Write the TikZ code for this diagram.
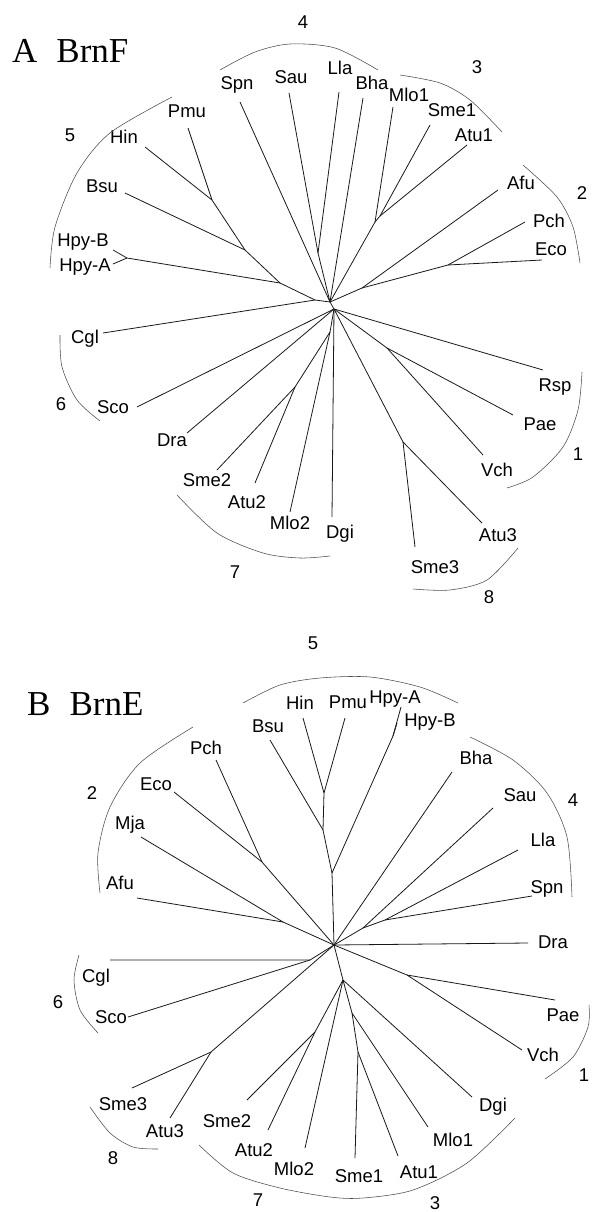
\documentclass[tikz,border=0pt]{standalone}
\usepackage{fontspec}
\setmainfont{Liberation Serif}
\setsansfont{Liberation Sans}
\usetikzlibrary{positioning}
\tikzset{%
	leaf/.style     = {font=\sffamily\fontsize{18.5}{20}\selectfont, inner sep=0pt, text height=13pt, text depth=0pt}, % species
	clade/.style    = {leaf}, % group number
	panel/.style    = {font=\rmfamily\fontsize{35}{40}\selectfont, inner sep=0pt, anchor=base west}, % panel title
	waypoint/.style = {coordinate}, % branch point
	branch/.style   = {line width=0.8pt, black!90},
	bracket/.style  = {line width=0.55pt, black!70},
}
\begin{document}
\begin{tikzpicture}[x=1pt,y=-1pt]
\useasboundingbox (0,0) rectangle (592,1212);

% ---------------- A BrnF
\node [panel] (titleA) at (12,63) {A\hspace{19pt}BrnF};

\node [waypoint] (hubA)  at (330,302) {};
\node [waypoint] (hubA2) at (334,309) {};
\node [waypoint] (jslA)  at (318,253) {};
\node [waypoint] (jm1A)  at (375,222) {};
\node [waypoint] (jsaA)  at (380,216) {};
\node [waypoint] (jafA)  at (362,288) {};
\node [waypoint] (jpeA)  at (448,265) {};
\node [waypoint] (jlcA)  at (315,300) {};
\node [waypoint] (jlA)   at (280,283) {};
\node [waypoint] (jhpyA) at (127,258) {};
\node [waypoint] (jbsA)  at (245,250) {};
\node [waypoint] (jhpA)  at (212,200) {};
\node [waypoint] (jpvA)  at (387,348) {};
\node [waypoint] (j8A)   at (403,442) {};
\node [waypoint] (j7A)   at (330,332) {};
\node [waypoint] (j7aA)  at (295,387) {};

\node [leaf] (spnA)  at (237,83)  {Spn};   \node [waypoint] (spnAe)  at (240,102) {};
\node [leaf] (sauA)  at (291,77)  {Sau};   \node [waypoint] (sauAe)  at (289,93)  {};
\node [leaf] (llaA)  at (340,68)  {Lla};   \node [waypoint] (llaAe)  at (339,92)  {};
\node [leaf] (bhaA)  at (372,83)  {Bha};   \node [waypoint] (bhaAe)  at (363,98)  {};
\node [leaf] (mlo1A) at (409,95)  {Mlo1};  \node [waypoint] (mlo1Ae) at (393,107) {};
\node [leaf] (sme1A) at (452,110) {Sme1};  \node [waypoint] (sme1Ae) at (430,125) {};
\node [leaf] (atu1A) at (474,135) {Atu1};  \node [waypoint] (atu1Ae) at (467,145) {};
\node [leaf] (afuA)  at (521,183) {Afu};   \node [waypoint] (afuAe)  at (498,190) {};
\node [leaf] (pchA)  at (549,221) {Pch};   \node [waypoint] (pchAe)  at (525,222) {};
\node [leaf] (ecoA)  at (551,249) {Eco};   \node [waypoint] (ecoAe)  at (542,260) {};
\node [leaf] (rspA)  at (555,385) {Rsp};   \node [waypoint] (rspAe)  at (543,370) {};
\node [leaf] (paeA)  at (540,424) {Pae};   \node [waypoint] (paeAe)  at (513,415) {};
\node [leaf] (vchA)  at (497,470) {Vch};   \node [waypoint] (vchAe)  at (483,455) {};
\node [leaf] (atu3A) at (498,535) {Atu3};  \node [waypoint] (atu3Ae) at (482,523) {};
\node [leaf] (sme3A) at (435,567) {Sme3};  \node [waypoint] (sme3Ae) at (415,547) {};
\node [leaf] (dgiA)  at (340,532) {Dgi};   \node [waypoint] (dgiAe)  at (332,517) {};
\node [leaf] (mlo2A) at (290,523) {Mlo2};  \node [waypoint] (mlo2Ae) at (290,512) {};
\node [leaf] (atu2A) at (247,502) {Atu2};  \node [waypoint] (atu2Ae) at (255,483) {};
\node [leaf] (sme2A) at (207,480) {Sme2};  \node [waypoint] (sme2Ae) at (217,470) {};
\node [leaf] (draA)  at (172,440) {Dra};   \node [waypoint] (draAe)  at (187,433) {};
\node [leaf] (scoA)  at (113,407) {Sco};   \node [waypoint] (scoAe)  at (137,407) {};
\node [leaf] (cglA)  at (85,337)  {Cgl};   \node [waypoint] (cglAe)  at (103,333) {};
\node [leaf] (hpyaA) at (85,265)  {Hpy-A}; \node [waypoint] (hpyaAe) at (113,264) {};
\node [leaf] (hpybA) at (83,240)  {Hpy-B}; \node [waypoint] (hpybAe) at (113,250) {};
\node [leaf] (bsuA)  at (102,186) {Bsu};   \node [waypoint] (bsuAe)  at (125,193) {};
\node [leaf] (hinA)  at (124,137) {Hin};   \node [waypoint] (hinAe)  at (145,147) {};
\node [leaf] (pmuA)  at (187,111) {Pmu};   \node [waypoint] (pmuAe)  at (188,128) {};

\draw [branch] (hubA) -- (hubA2);
\draw [branch] (hubA) -- (spnAe);
\draw [branch] (hubA) -- (jslA) -- (sauAe);
\draw [branch] (jslA) -- (llaAe);
\draw [branch] (hubA) -- (bhaAe);
\draw [branch] (hubA) -- (jm1A) -- (mlo1Ae);
\draw [branch] (jm1A) -- (jsaA) -- (sme1Ae);
\draw [branch] (jsaA) -- (atu1Ae);
\draw [branch] (hubA) -- (jafA) -- (afuAe);
\draw [branch] (jafA) -- (jpeA) -- (pchAe);
\draw [branch] (jpeA) -- (ecoAe);
\draw [branch] (hubA) -- (jlcA) -- (cglAe);
\draw [branch] (jlcA) -- (jlA) -- (jhpyA) -- (hpybAe);
\draw [branch] (jhpyA) -- (hpyaAe);
\draw [branch] (jlA) -- (jbsA) -- (bsuAe);
\draw [branch] (jbsA) -- (jhpA) -- (hinAe);
\draw [branch] (jhpA) -- (pmuAe);
\draw [branch] (hubA2) -- (rspAe);
\draw [branch] (hubA2) -- (jpvA) -- (paeAe);
\draw [branch] (jpvA) -- (vchAe);
\draw [branch] (hubA2) -- (j8A) -- (atu3Ae);
\draw [branch] (j8A) -- (sme3Ae);
\draw [branch] (hubA2) -- (dgiAe);
\draw [branch] (hubA2) -- (j7A) -- (mlo2Ae);
\draw [branch] (j7A) -- (j7aA) -- (sme2Ae);
\draw [branch] (j7aA) -- (atu2Ae);
\draw [branch] (hubA2) -- (draAe);
\draw [branch] (hubA2) -- (scoAe);

\draw [bracket] plot [smooth] coordinates {(172,97) (110,133) (77,173) (55,227) (50,268)};
\draw [bracket] plot [smooth] coordinates {(220,70) (255,52) (290,44) (335,48) (378,70)};
\draw [bracket] plot [smooth] coordinates {(400,75) (440,83) (470,100) (502,132)};
\draw [bracket] plot [smooth] coordinates {(523,165) (557,197) (573,227) (580,263)};
\draw [bracket] plot [smooth] coordinates {(582,372) (578,410) (563,447) (533,477) (507,488)};
\draw [bracket] plot [smooth] coordinates {(518,548) (487,580) (450,590) (413,589)};
\draw [bracket] plot [smooth] coordinates {(177,495) (217,533) (263,553) (300,558) (330,556)};
\draw [bracket] plot [smooth] coordinates {(60,335) (62,367) (77,400) (100,421)};

\node [clade] (c1A) at (578,454) {1};
\node [clade] (c2A) at (582,193) {2};
\node [clade] (c3A) at (477,67)  {3};
\node [clade] (c4A) at (303,22)  {4};
\node [clade] (c5A) at (70,135)  {5};
\node [clade] (c6A) at (61,404)  {6};
\node [clade] (c7A) at (235,572) {7};
\node [clade] (c8A) at (489,597) {8};

% ---------------- B BrnE
\node [panel] (titleB) at (27,715) {B\hspace{19pt}BrnE};

\node [waypoint] (hubB)  at (334,945) {};
\node [waypoint] (jhB)   at (332,873) {};
\node [waypoint] (jhpyB) at (393,736) {};
\node [waypoint] (jbB)   at (323,830) {};
\node [waypoint] (jhpB)  at (324,793) {};
\node [waypoint] (jsauB) at (363,928) {};
\node [waypoint] (jlsB)  at (385,920) {};
\node [waypoint] (jpvB)  at (407,975) {};
\node [waypoint] (j73B)  at (343,980) {};
\node [waypoint] (j72B)  at (315,1032) {};
\node [waypoint] (jmB)   at (352,1013) {};
\node [waypoint] (jsB)   at (358,1052) {};
\node [waypoint] (j8B)   at (211,1052) {};
\node [waypoint] (jcsB)  at (310,960) {};
\node [waypoint] (jmaB)  at (283,922) {};
\node [waypoint] (jepB)  at (262,862) {};

\node [leaf] (bsuB)  at (268,726)  {Bsu};   \node [waypoint] (bsuBe)  at (270,740)  {};
\node [leaf] (hinB)  at (300,703)  {Hin};   \node [waypoint] (hinBe)  at (303,718)  {};
\node [leaf] (pmuB)  at (348,702)  {Pmu};   \node [waypoint] (pmuBe)  at (345,718)  {};
\node [leaf] (hpyaB) at (395,697)  {Hpy-A}; \node [waypoint] (hpyaBe) at (401,707)  {};
\node [leaf] (hpybB) at (430,720)  {Hpy-B}; \node [waypoint] (hpybBe) at (397,723)  {};
\node [leaf] (bhaB)  at (476,758)  {Bha};   \node [waypoint] (bhaBe)  at (452,772)  {};
\node [leaf] (sauB)  at (520,795)  {Sau};   \node [waypoint] (sauBe)  at (493,808)  {};
\node [leaf] (llaB)  at (543,840)  {Lla};   \node [waypoint] (llaBe)  at (518,850)  {};
\node [leaf] (spnB)  at (547,887)  {Spn};   \node [waypoint] (spnBe)  at (532,896)  {};
\node [leaf] (draB)  at (553,942)  {Dra};   \node [waypoint] (draBe)  at (528,943)  {};
\node [leaf] (paeB)  at (563,1015) {Pae};   \node [waypoint] (paeBe)  at (555,1000) {};
\node [leaf] (vchB)  at (543,1055) {Vch};   \node [waypoint] (vchBe)  at (522,1050) {};
\node [leaf] (dgiB)  at (493,1105) {Dgi};   \node [waypoint] (dgiBe)  at (472,1097) {};
\node [leaf] (mlo1B) at (453,1140) {Mlo1};  \node [waypoint] (mlo1Be) at (428,1127) {};
\node [leaf] (atu1B) at (419,1172) {Atu1};  \node [waypoint] (atu1Be) at (398,1156) {};
\node [leaf] (sme1B) at (359,1176) {Sme1};  \node [waypoint] (sme1Be) at (355,1158) {};
\node [leaf] (mlo2B) at (294,1169) {Mlo2};  \node [waypoint] (mlo2Be) at (305,1148) {};
\node [leaf] (atu2B) at (254,1150) {Atu2};  \node [waypoint] (atu2Be) at (268,1130) {};
\node [leaf] (sme2B) at (227,1121) {Sme2};  \node [waypoint] (sme2Be) at (247,1100) {};
\node [leaf] (atu3B) at (165,1131) {Atu3};  \node [waypoint] (atu3Be) at (170,1118) {};
\node [leaf] (sme3B) at (123,1104) {Sme3};  \node [waypoint] (sme3Be) at (132,1088) {};
\node [leaf] (scoB)  at (111,1017) {Sco};   \node [waypoint] (scoBe)  at (128,1017) {};
\node [leaf] (cglB)  at (96,976)   {Cgl};   \node [waypoint] (cglBe)  at (110,960)  {};
\node [leaf] (afuB)  at (120,883)  {Afu};   \node [waypoint] (afuBe)  at (137,898)  {};
\node [leaf] (mjaB)  at (130,823)  {Mja};   \node [waypoint] (mjaBe)  at (141,837)  {};
\node [leaf] (ecoB)  at (156,784)  {Eco};   \node [waypoint] (ecoBe)  at (174,792)  {};
\node [leaf] (pchB)  at (206,748)  {Pch};   \node [waypoint] (pchBe)  at (216,760)  {};

\draw [branch] (hubB) -- (jhB) -- (jhpyB) -- (hpyaBe);
\draw [branch] (jhpyB) -- (hpybBe);
\draw [branch] (jhB) -- (jbB) -- (bsuBe);
\draw [branch] (jbB) -- (jhpB) -- (hinBe);
\draw [branch] (jhpB) -- (pmuBe);
\draw [branch] (hubB) -- (bhaBe);
\draw [branch] (hubB) -- (jsauB) -- (sauBe);
\draw [branch] (jsauB) -- (jlsB) -- (llaBe);
\draw [branch] (jlsB) -- (spnBe);
\draw [branch] (hubB) -- (draBe);
\draw [branch] (hubB) -- (jpvB) -- (paeBe);
\draw [branch] (jpvB) -- (vchBe);
\draw [branch] (hubB) -- (j73B) -- (dgiBe);
\draw [branch] (j73B) -- (mlo2Be);
\draw [branch] (j73B) -- (j72B) -- (sme2Be);
\draw [branch] (j72B) -- (atu2Be);
\draw [branch] (j73B) -- (jmB) -- (mlo1Be);
\draw [branch] (jmB) -- (jsB) -- (sme1Be);
\draw [branch] (jsB) -- (atu1Be);
\draw [branch] (hubB) -- (j8B) -- (sme3Be);
\draw [branch] (j8B) -- (atu3Be);
\draw [branch] (hubB) -- (jcsB) -- (cglBe);
\draw [branch] (jcsB) -- (scoBe);
\draw [branch] (hubB) -- (jmaB) -- (mjaBe);
\draw [branch] (jmaB) -- (afuBe);
\draw [branch] (hubB) -- (jepB) -- (ecoBe);
\draw [branch] (jepB) -- (pchBe);

\draw [bracket] plot [smooth] coordinates {(243,703) (280,685) (320,678) (370,677) (420,687) (458,703)};
\draw [bracket] plot [smooth] coordinates {(470,737) (513,760) (547,793) (567,837) (572,897)};
\draw [bracket] plot [smooth] coordinates {(193,727) (140,763) (110,807) (98,853) (100,893)};
\draw [bracket] plot [smooth] coordinates {(79,955) (74,980) (80,1010) (98,1033)};
\draw [bracket] plot [smooth] coordinates {(90,1107) (110,1133) (133,1147) (158,1149)};
\draw [bracket] plot [smooth] coordinates {(199,1145) (233,1173) (280,1188) (330,1197) (363,1198) (413,1190) (467,1163) (515,1118)};
\draw [bracket] plot [smooth] coordinates {(589,1005) (588,1027) (573,1057) (545,1079)};

\node [clade] (c5B) at (313,643)  {5};
\node [clade] (c4B) at (573,800)  {4};
\node [clade] (c2B) at (92,793)   {2};
\node [clade] (c6B) at (58,1002)  {6};
\node [clade] (c8B) at (113,1158) {8};
\node [clade] (c7B) at (258,1200) {7};
\node [clade] (c3B) at (435,1203) {3};
\node [clade] (c1B) at (584,1075) {1};
\end{tikzpicture}
\end{document}
